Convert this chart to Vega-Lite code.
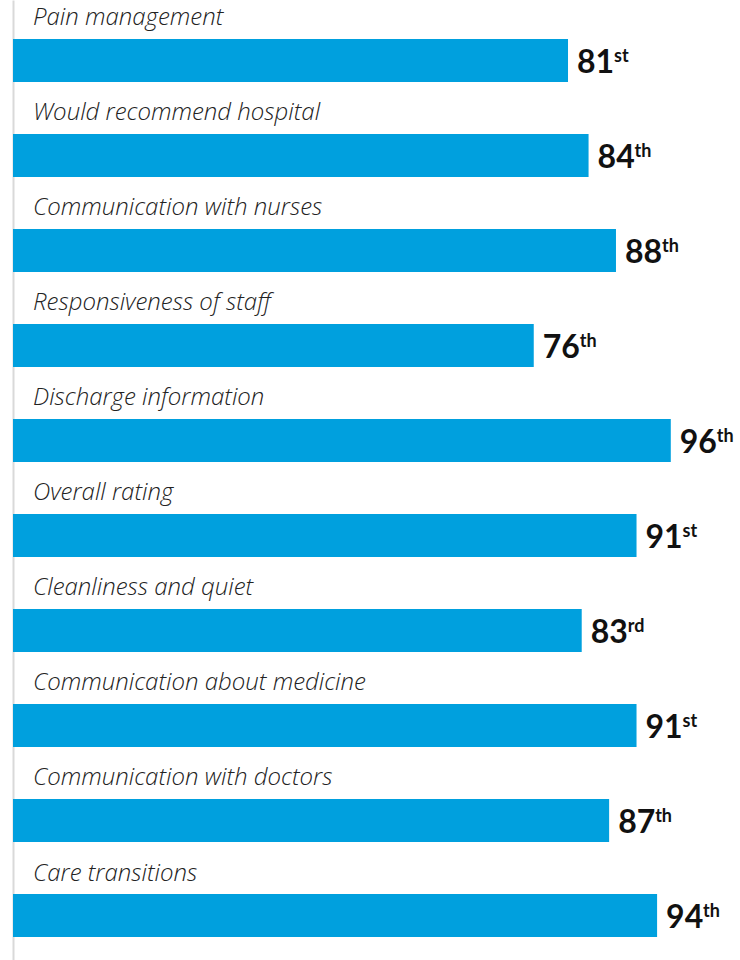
{
  "$schema": "https://vega.github.io/schema/vega-lite/v6.json",
  "autosize": "none",
  "width": 727,
  "height": 960,
  "padding": {"left": 13, "top": 0, "right": 0, "bottom": 0},
  "background": "white",
  "config": {"view": {"stroke": null}},
  "data": {"values": [
    {"measure": "Pain management", "pct": 81, "suffix": "st"},
    {"measure": "Would recommend hospital", "pct": 84, "suffix": "th"},
    {"measure": "Communication with nurses", "pct": 88, "suffix": "th"},
    {"measure": "Responsiveness of staff", "pct": 76, "suffix": "th"},
    {"measure": "Discharge information", "pct": 96, "suffix": "th"},
    {"measure": "Overall rating", "pct": 91, "suffix": "st"},
    {"measure": "Cleanliness and quiet", "pct": 83, "suffix": "rd"},
    {"measure": "Communication about medicine", "pct": 91, "suffix": "st"},
    {"measure": "Communication with doctors", "pct": 87, "suffix": "th"},
    {"measure": "Care transitions", "pct": 94, "suffix": "th"}
  ]},
  "encoding": {
    "y": {
      "field": "measure", "type": "nominal", "sort": null,
      "scale": {"paddingInner": 0.5474, "paddingOuter": 0.3263, "align": 0.629},
      "axis": {"title": null, "labels": false, "ticks": false, "domain": true, "domainColor": "#d9d9d9", "domainWidth": 2, "grid": false}
    }
  },
  "layer": [
    {
      "mark": {"type": "bar", "color": "#00a0de"},
      "encoding": {
        "x": {"field": "pct", "type": "quantitative", "scale": {"domain": [0, 106.1], "nice": false, "zero": true}, "axis": null}
      }
    },
    {
      "mark": {"type": "text", "align": "left", "baseline": "alphabetic", "dx": 20, "dy": -35, "font": "Open Sans", "fontStyle": "italic", "fontWeight": 300, "fontSize": 24, "color": "#222222"},
      "encoding": {
        "x": {"datum": 0, "type": "quantitative"},
        "text": {"field": "measure"}
      }
    },
    {
      "mark": {"type": "text", "align": "left", "baseline": "alphabetic", "dx": 9, "dy": 12.5, "font": "Lato", "fontWeight": "bold", "fontSize": 32, "color": "#111111"},
      "encoding": {
        "x": {"field": "pct", "type": "quantitative"},
        "text": {"field": "pct"}
      }
    },
    {
      "mark": {"type": "text", "align": "left", "baseline": "alphabetic", "dx": 46, "dy": 1.5, "font": "Lato", "fontWeight": "bold", "fontSize": 18, "color": "#111111"},
      "encoding": {
        "x": {"field": "pct", "type": "quantitative"},
        "text": {"field": "suffix"}
      }
    }
  ]
}
